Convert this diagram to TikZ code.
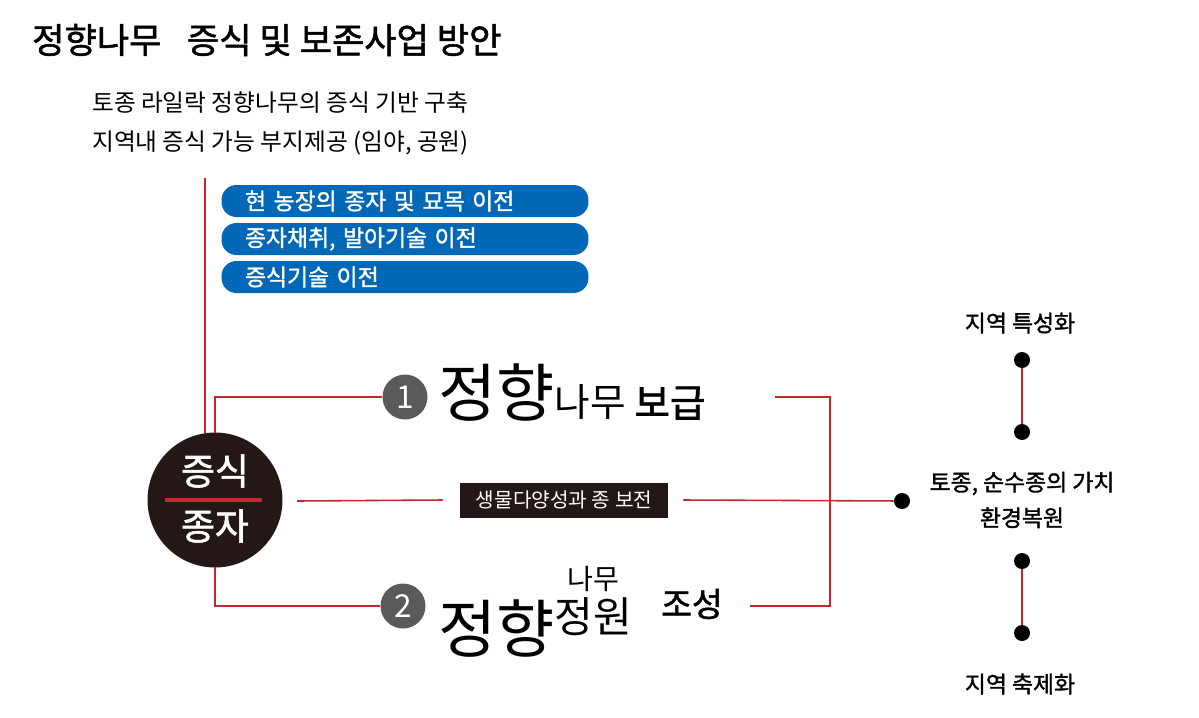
\documentclass[tikz,border=0pt]{standalone}
\usepackage{fontspec}
\setmainfont{Noto Sans CJK KR}
\newfontfamily\kbold{Noto Sans CJK KR}[FakeBold=1.5]
\usetikzlibrary{positioning}
\definecolor{pipe}{HTML}{C1272D}
\definecolor{boxblue}{HTML}{0068B7}
\definecolor{darkbg}{HTML}{231815}
\definecolor{numgray}{HTML}{5A5A5A}
\tikzset{
	step box/.style={draw=none, rounded corners=8.5pt, fill=boxblue, minimum width=7.34cm, minimum height=0.64cm, text=white, font=\kbold\fontsize{13}{13}\selectfont, align=left, text width=6.4cm, inner sep=0pt},
	num/.style={circle, fill=numgray, text=white, minimum size=0.9cm, inner sep=0pt, font=\fontsize{18}{18}\selectfont},
	dot/.style={circle, fill=black, minimum size=0.32cm, inner sep=0pt},
	plain/.style={font=\fontsize{13.5}{13.5}\selectfont},
	side/.style={font=\kbold\fontsize{13}{13}\selectfont, align=center},
	link/.style={pipe, line width=0.9pt},
}
\begin{document}
\begin{tikzpicture}[x=0.02cm, y=-0.02cm]
	\useasboundingbox (0,0) rectangle (1199,717);
	
	\node (title) [anchor=west, font=\kbold\fontsize{20}{20}\selectfont] at (26,40) {정향나무\hspace{0.5em} 증식 및 보존사업 방안};
	\node (line1) [plain, anchor=west] at (86,103) {토종 라일락 정향나무의 증식 기반 구축};
	\node (line2) [plain, anchor=west] at (86,143) {지역내 증식 가능 부지제공 (임야, 공원)};
	
	\node (b1) [step box] at (405,201) {현 농장의 종자 및 묘목 이전};
	\node (b2) [step box] at (405,239) {종자채취, 발아기술 이전};
	\node (b3) [step box] at (405,277) {증식기술 이전};
	
	\node (seed) [circle, fill=darkbg, minimum size=2.7cm, inner sep=0pt] at (215,500) {};
	\node (seed1) [text=white, font=\kbold\fontsize{21}{21}\selectfont] at (215,471) {증식};
	\node (seed2) [text=white, font=\kbold\fontsize{21}{21}\selectfont] at (215,526) {종자};
	\draw [pipe, line width=2pt] (165,500) -- (262,500);
	
	\node (n1) [num] at (405,397) {1};
	\node (t1) [anchor=west, font=\fontsize{36}{36}\selectfont] at (432,393) {정향\fontsize{22}{22}\selectfont 나무 \kbold\fontsize{22}{22}\selectfont 보급};
	\node (n2) [num] at (403,606) {2};
	\node (t2) [anchor=west, font=\fontsize{36}{36}\selectfont] at (432,612) {정향\raisebox{0.6ex}{\shortstack{\fontsize{16}{16}\selectfont 나무\\ \fontsize{24}{24}\selectfont 정원}}};
	\node (t2b) [font=\kbold\fontsize{19}{19}\selectfont] at (692,604) {조성};
	
	\node (bio) [fill=darkbg, text=white, minimum width=4.16cm, minimum height=0.7cm, font=\fontsize{11.5}{11.5}\selectfont] at (564,500) {생물다양성과 종 보전};
	\node (hub) [dot] at (902,501) {};
	
	\coordinate (top) at (205,178);
	\coordinate (r1) at (775,397);
	\coordinate (r2) at (750,606);
	\coordinate (m1) at (297,501);
	
	\node (feat) [side] at (1020,323) {지역 특성화};
	\node (d1) [dot] at (1022,360) {};
	\node (d2) [dot] at (1022,432) {};
	\node (value) [side] at (1022,500) {토종, 순수종의 가치\\[6pt]환경복원};
	\node (d3) [dot] at (1022,561) {};
	\node (d4) [dot] at (1022,633) {};
	\node (fest) [side] at (1020,684) {지역 축제화};
	
	\begin{scope}[link]
		\draw (top) -- (205,433);
		\draw (215,433) |- (n1);
		\draw (215,567) |- (n2);
		\draw (m1) -- ([xshift=-0.34cm]bio.west);
		\draw ([xshift=0.3cm]bio.east) -- (hub);
		\draw (r1) -- (830,397) -- (830,606) -- (r2);
		\draw (d1) -- (d2);
		\draw (d3) -- (d4);
	\end{scope}
\end{tikzpicture}
\end{document}
